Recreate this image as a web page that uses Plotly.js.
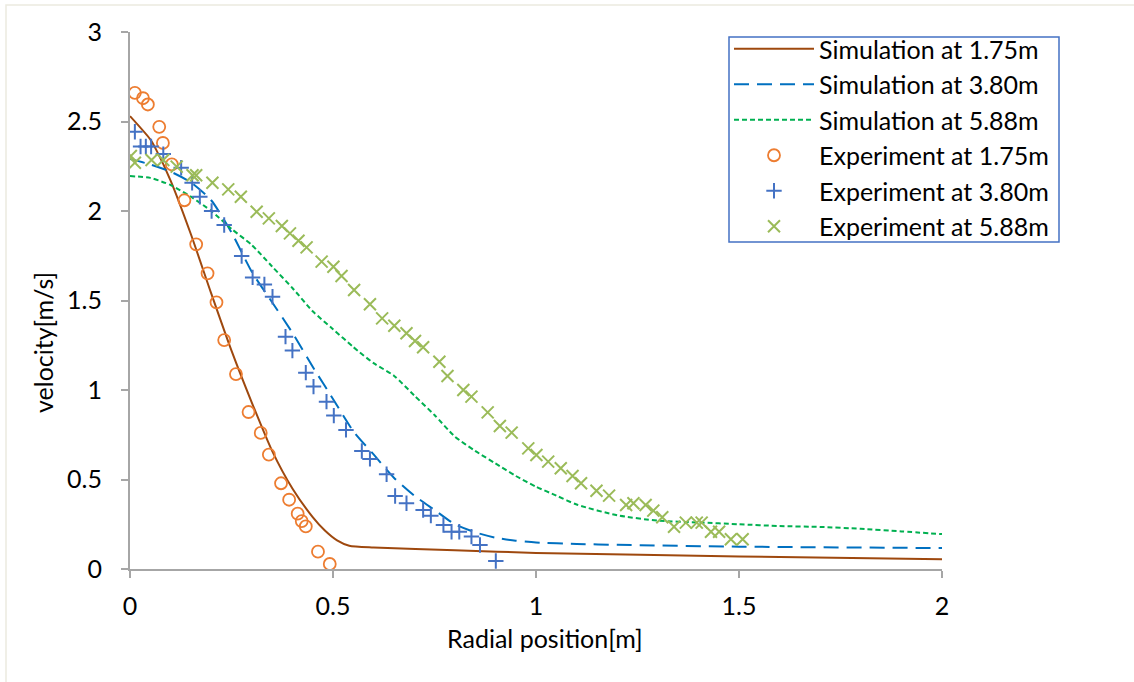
<!DOCTYPE html>
<html>
<head>
<meta charset="utf-8">
<script src="https://cdn.plot.ly/plotly-3.0.1.min.js"></script>
<style>
  html, body { margin: 0; padding: 0; background: #fff; }
  #chart { width: 1134px; height: 682px; }
</style>
</head>
<body>
<div id="chart"></div>
<script>
// Simulated velocity profiles (radial position in m, velocity in m/s)
const sim175X = [0, 0.05, 0.065, 0.1, 0.15, 0.2, 0.25, 0.3, 0.35, 0.4, 0.45, 0.48, 0.51, 0.54, 0.6, 0.8, 1.0, 1.5, 2.0];
const sim175Y = [2.53, 2.40, 2.34, 2.17, 1.87, 1.54, 1.22, 0.93, 0.66, 0.45, 0.29, 0.215, 0.16, 0.13, 0.12, 0.105, 0.09, 0.07, 0.055];

const sim380X = [0, 0.05, 0.1, 0.15, 0.2, 0.25, 0.3, 0.35, 0.4, 0.45, 0.5, 0.55, 0.6, 0.65, 0.7, 0.75, 0.8, 0.85, 0.9, 0.95, 1.0, 1.1, 1.2, 1.5, 2.0];
const sim380Y = [2.29, 2.26, 2.22, 2.16, 2.06, 1.88, 1.66, 1.49, 1.32, 1.13, 0.95, 0.77, 0.64, 0.51, 0.41, 0.33, 0.25, 0.205, 0.175, 0.158, 0.148, 0.14, 0.135, 0.125, 0.117];

const sim588X = [0, 0.05, 0.1, 0.15, 0.2, 0.25, 0.3, 0.35, 0.4, 0.45, 0.5, 0.55, 0.6, 0.65, 0.7, 0.75, 0.8, 0.85, 0.9, 0.95, 1.0, 1.05, 1.1, 1.2, 1.3, 1.4, 1.5, 1.6, 1.7, 1.8, 1.9, 2.0];
const sim588Y = [2.195, 2.185, 2.145, 2.08, 2.0, 1.90, 1.81, 1.69, 1.57, 1.44, 1.34, 1.24, 1.15, 1.08, 0.97, 0.86, 0.74, 0.66, 0.59, 0.52, 0.46, 0.41, 0.36, 0.30, 0.27, 0.26, 0.25, 0.24, 0.235, 0.225, 0.21, 0.195];

// Measured velocity profiles
const exp175X = [0.012, 0.032, 0.044, 0.072, 0.081, 0.103, 0.134, 0.163, 0.191, 0.213, 0.232, 0.261, 0.292, 0.322, 0.342, 0.372, 0.392, 0.413, 0.423, 0.433, 0.463, 0.492];
const exp175Y = [2.66, 2.63, 2.595, 2.47, 2.38, 2.26, 2.06, 1.814, 1.652, 1.49, 1.279, 1.089, 0.877, 0.76, 0.639, 0.479, 0.387, 0.309, 0.268, 0.238, 0.097, 0.028];

const exp380X = [0.012, 0.026, 0.039, 0.052, 0.082, 0.126, 0.153, 0.172, 0.201, 0.232, 0.275, 0.302, 0.331, 0.351, 0.383, 0.400, 0.433, 0.452, 0.484, 0.502, 0.532, 0.571, 0.591, 0.632, 0.653, 0.681, 0.722, 0.741, 0.772, 0.792, 0.811, 0.841, 0.862, 0.901];
const exp380Y = [2.443, 2.36, 2.36, 2.36, 2.318, 2.242, 2.158, 2.08, 2.0, 1.922, 1.749, 1.629, 1.59, 1.521, 1.298, 1.22, 1.097, 1.019, 0.935, 0.857, 0.777, 0.659, 0.615, 0.529, 0.408, 0.367, 0.330, 0.298, 0.246, 0.208, 0.208, 0.181, 0.134, 0.045];

const exp588X = [0.002, 0.012, 0.053, 0.082, 0.115, 0.154, 0.163, 0.203, 0.242, 0.273, 0.312, 0.342, 0.374, 0.394, 0.415, 0.435, 0.472, 0.501, 0.521, 0.552, 0.591, 0.621, 0.651, 0.681, 0.702, 0.722, 0.762, 0.782, 0.821, 0.841, 0.881, 0.911, 0.940, 0.981, 1.001, 1.030, 1.061, 1.090, 1.111, 1.149, 1.180, 1.222, 1.240, 1.270, 1.289, 1.311, 1.340, 1.369, 1.396, 1.408, 1.431, 1.451, 1.480, 1.509];
const exp588Y = [2.307, 2.27, 2.285, 2.285, 2.248, 2.2, 2.2, 2.158, 2.121, 2.08, 1.996, 1.959, 1.916, 1.875, 1.834, 1.797, 1.717, 1.689, 1.637, 1.559, 1.479, 1.40, 1.359, 1.317, 1.274, 1.239, 1.158, 1.078, 1.0, 0.963, 0.875, 0.799, 0.762, 0.674, 0.637, 0.6, 0.563, 0.52, 0.479, 0.437, 0.41, 0.358, 0.367, 0.358, 0.326, 0.289, 0.236, 0.259, 0.259, 0.259, 0.208, 0.208, 0.166, 0.166];

const seriesNames = [
  'Simulation at 1.75m', 'Simulation at 3.80m', 'Simulation at 5.88m',
  'Experiment at 1.75m', 'Experiment at 3.80m', 'Experiment at 5.88m'
];

const FONT = 'Lato, "Liberation Sans", sans-serif';
const FS = 25;
const AXIS_GREY = '#A6A6A6';

const traces = [
  { x: sim175X, y: sim175Y, name: seriesNames[0], mode: 'lines', legendgroup: 'a',
    line: { color: '#9E480E', width: 2, shape: 'spline', smoothing: 0.6 } },
  { x: sim380X, y: sim380Y, name: seriesNames[1], mode: 'lines', legendgroup: 'b',
    line: { color: '#0070C0', width: 2, dash: '15px,8px', shape: 'spline', smoothing: 0.6 } },
  { x: sim588X, y: sim588Y, name: seriesNames[2], mode: 'lines', legendgroup: 'c',
    line: { color: '#00B050', width: 2, dash: '5px,3px', shape: 'spline', smoothing: 0.6 } },
  { x: exp175X, y: exp175Y, name: seriesNames[3], mode: 'markers', legendgroup: 'd',
    marker: { symbol: 'circle-open', size: 12, color: '#ED7D31', line: { width: 1.8, color: '#ED7D31' } } },
  { x: exp380X, y: exp380Y, name: seriesNames[4], mode: 'markers', legendgroup: 'e',
    marker: { symbol: 'cross-thin-open', size: 11, color: '#4472C4', line: { width: 2, color: '#4472C4' } } },
  { x: exp588X, y: exp588Y, name: seriesNames[5], mode: 'markers', legendgroup: 'f',
    marker: { symbol: 'x-thin-open', size: 12, color: '#9BBB59', line: { width: 2, color: '#9BBB59' } } }
];

// plot area spans 130..942 px horizontally, 32..569 px vertically
const L = 130, R = 942, T = 32, B = 569;
const px2x = p => (p - L) / (R - L);
const px2y = p => (B - p) / (B - T);

const layout = {
  width: 1134, height: 682,
  margin: { l: L, r: 1134 - R, t: T, b: 682 - B, pad: 0 },
  paper_bgcolor: '#fff', plot_bgcolor: '#fff',
  font: { family: FONT, size: FS, color: '#000' },
  showlegend: true,
  legend: {
    x: px2x(729), y: px2y(26), xanchor: 'left', yanchor: 'top',
    bgcolor: 'rgba(0,0,0,0)', borderwidth: 0,
    font: { family: FONT, size: FS, color: '#000' },
    itemwidth: 80, tracegroupgap: 1, traceorder: 'normal'
  },
  xaxis: {
    range: [0, 2], dtick: 0.5, tick0: 0,
    showgrid: false, zeroline: false,
    showline: true, linecolor: AXIS_GREY, linewidth: 2,
    ticks: 'outside', ticklen: 7, tickwidth: 2, tickcolor: AXIS_GREY,
    ticklabelstandoff: 7,
    tickfont: { family: FONT, size: FS, color: '#000' }
  },
  yaxis: {
    range: [0, 3], dtick: 0.5, tick0: 0,
    showgrid: false, zeroline: false,
    showline: true, linecolor: AXIS_GREY, linewidth: 2,
    ticks: 'outside', ticklen: 7, tickwidth: 2, tickcolor: AXIS_GREY,
    ticklabelstandoff: 14,
    tickfont: { family: FONT, size: FS, color: '#000' }
  },
  annotations: [
    { text: 'Radial position[m]', xref: 'paper', yref: 'paper',
      x: px2x(545), y: px2y(638), xanchor: 'center', yanchor: 'middle',
      showarrow: false, font: { family: FONT, size: FS, color: '#000' } },
    { text: 'velocity[m/s]', xref: 'paper', yref: 'paper', textangle: -90,
      x: px2x(43), y: px2y(343), xanchor: 'center', yanchor: 'middle',
      showarrow: false, font: { family: FONT, size: FS, color: '#000' } }
  ],
  shapes: [
    // faint chart-area frame
    { type: 'rect', xref: 'paper', yref: 'paper', layer: 'below',
      x0: px2x(6), x1: px2x(1145), y0: px2y(5), y1: px2y(690),
      line: { color: '#ECEAE0', width: 1.5 }, fillcolor: 'rgba(0,0,0,0)' },
    // legend frame
    { type: 'rect', xref: 'paper', yref: 'paper', layer: 'above',
      x0: px2x(729), x1: px2x(1059), y0: px2y(37), y1: px2y(242),
      line: { color: '#4472C4', width: 1.5 }, fillcolor: '#fff' }
  ]
};

Plotly.newPlot('chart', traces, layout, { displayModeBar: false, staticPlot: true });
</script>
</body>
</html>
